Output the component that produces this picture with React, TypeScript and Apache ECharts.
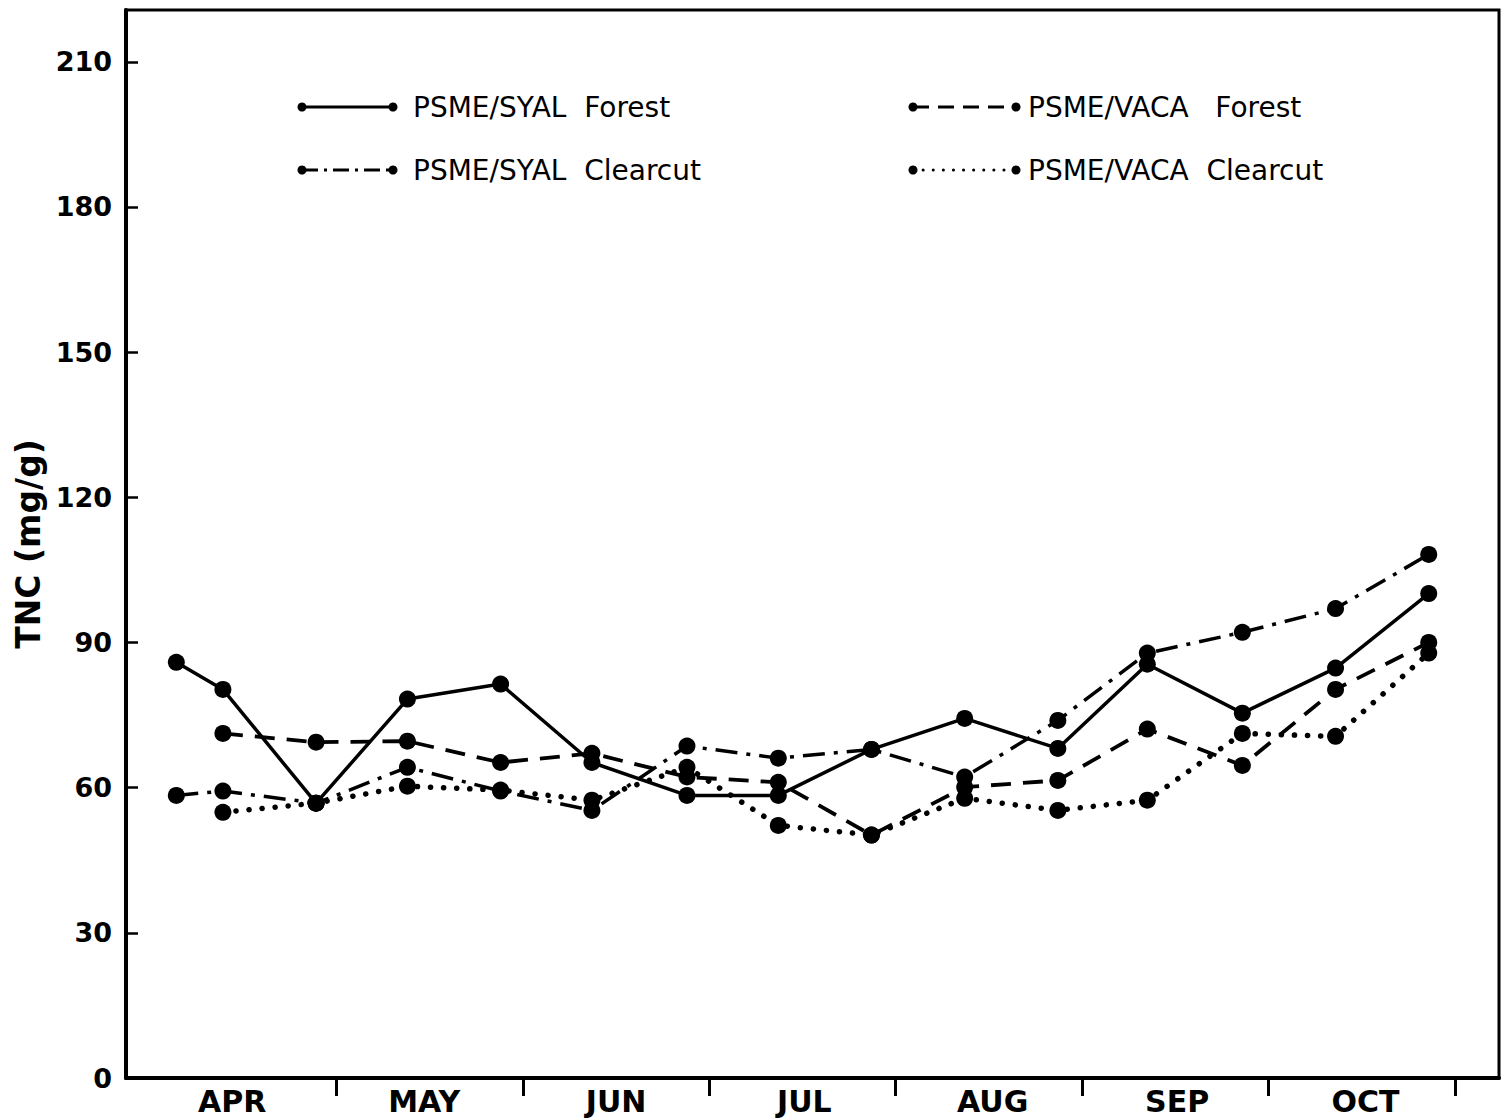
import React, { useEffect, useRef } from "react";
import * as echarts from "echarts";

// Month labels along the x axis (x unit = months since 1 April)
const months = ["APR", "MAY", "JUN", "JUL", "AUG", "SEP", "OCT"];
const monthLabelPos = [0.44, 1.47, 2.5, 3.51, 4.52, 5.51, 6.52];
const monthBoundaries = [1, 2, 3, 4, 5, 6, 7];
const yTicks = [0, 30, 60, 90, 120, 150, 180, 210];

// Sampling times (months since 1 April)
const sampleMonths = [0.14, 0.39, 0.89, 1.38, 1.88, 2.37, 2.88, 3.37, 3.87, 4.37, 4.87, 5.35, 5.86, 6.36, 6.86];

// TNC (mg/g)
const syalForest = [85.9, 80.3, 56.8, 78.3, 81.4, 65.2, 58.4, 58.4, 67.9, 74.3, 68.1, 85.5, 75.4, 84.7, 100.1];
const syalClearcut = [58.4, 59.3, 56.8, 64.2, 59.3, 55.3, 68.6, 66.1, 67.9, 62.2, 73.9, 87.8, 92.1, 97.0, 108.2];
const vacaForest = [null, 71.2, 69.4, 69.6, 65.2, 67.1, 62.2, 61.1, 50.2, 60.1, 61.5, 72.1, 64.6, 80.3, 90.0];
const vacaClearcut = [null, 54.9, 56.8, 60.3, 59.5, 57.4, 64.2, 52.2, 50.2, 57.8, 55.3, 57.4, 71.2, 70.6, 87.8];

const seriesNames = [
  "PSME/SYAL  Forest",
  "PSME/SYAL  Clearcut",
  "PSME/VACA   Forest",
  "PSME/VACA  Clearcut",
];

const FONT = "'DejaVu Sans', sans-serif";

function pairs(vals: (number | null)[]) {
  const out: number[][] = [];
  vals.forEach((v, i) => {
    if (v !== null) out.push([sampleMonths[i], v]);
  });
  return out;
}

function legendItem(x1: number, x2: number, y: number, dash: any, label: string, cap: string, gap: number) {
  return {
    type: "group",
    children: [
      {
        type: "line",
        shape: { x1, y1: y, x2, y2: y },
        style: { stroke: "#000", lineWidth: 3, lineDash: dash, lineCap: cap },
      },
      { type: "circle", shape: { cx: x1, cy: y, r: 4.5 }, style: { fill: "#000" } },
      { type: "circle", shape: { cx: x2, cy: y, r: 4.5 }, style: { fill: "#000" } },
      {
        type: "text",
        x: x2 + gap,
        y,
        style: {
          text: label,
          fontSize: 28,
          fontFamily: FONT,
          fill: "#000",
          verticalAlign: "middle",
          align: "left",
        },
      },
    ],
  };
}

export default function App() {
  const ref = useRef<HTMLDivElement>(null);
  useEffect(() => {
    if (!ref.current) return;
    const chart = echarts.init(ref.current, undefined, { renderer: "svg" });
    const lineCommon = {
      type: "line",
      symbol: "circle",
      symbolSize: 17,
      itemStyle: { color: "#000" },
      silent: true,
    };
    chart.setOption({
      animation: false,
      backgroundColor: "#fff",
      grid: {
        left: 126,
        right: 3,
        top: 10,
        bottom: 40,
        show: true,
        borderColor: "#000",
        borderWidth: 3,
      },
      xAxis: {
        type: "value",
        min: -0.13,
        max: 7.237,
        splitLine: { show: false },
        axisLine: { show: true, onZero: false, lineStyle: { color: "#000", width: 4 } },
        axisTick: {
          show: true,
          inside: false,
          length: 18,
          lineStyle: { color: "#000", width: 3 },
          customValues: monthBoundaries,
        },
        axisLabel: {
          customValues: monthLabelPos,
          formatter: (v: number) => months[Math.floor(v)] ?? "",
          color: "#000",
          fontSize: 30,
          fontWeight: "bold",
          fontFamily: FONT,
          margin: 8,
        },
      },
      yAxis: {
        type: "value",
        min: 0,
        max: 220.7,
        name: "TNC (mg/g)",
        nameLocation: "middle",
        nameGap: 78,
        nameTextStyle: { color: "#000", fontSize: 33, fontWeight: "bold", fontFamily: FONT },
        splitLine: { show: false },
        axisLine: { show: true, onZero: false, lineStyle: { color: "#000", width: 4 } },
        axisTick: {
          show: true,
          inside: true,
          length: 12,
          lineStyle: { color: "#000", width: 2.5 },
          customValues: yTicks,
        },
        axisLabel: {
          customValues: yTicks,
          color: "#000",
          fontSize: 27,
          fontWeight: "bold",
          fontFamily: FONT,
          margin: 14,
        },
      },
      series: [
        {
          ...lineCommon,
          name: seriesNames[0],
          data: pairs(syalForest),
          lineStyle: { color: "#000", width: 3.5, type: "solid" },
          z: 4,
        },
        {
          ...lineCommon,
          name: seriesNames[1],
          data: pairs(syalClearcut),
          lineStyle: { color: "#000", width: 3.5, type: [22, 9, 4, 9] },
          z: 3,
        },
        {
          ...lineCommon,
          name: seriesNames[2],
          data: pairs(vacaForest),
          lineStyle: { color: "#000", width: 3.8, type: [20, 12] },
          z: 2,
        },
        {
          ...lineCommon,
          name: seriesNames[3],
          data: pairs(vacaClearcut),
          lineStyle: { color: "#000", width: 5.5, type: [0.1, 13], cap: "round" },
          z: 1,
        },
      ],
      graphic: [
        legendItem(302, 393, 107, null, seriesNames[0], "butt", 20),
        legendItem(302, 393, 170, [16, 6, 3, 6], seriesNames[1], "butt", 20),
        legendItem(913, 1016, 107, [16, 9], seriesNames[2], "butt", 12),
        legendItem(913, 1016, 170, [0.1, 10], seriesNames[3], "round", 12),
      ],
    });
    return () => chart.dispose();
  }, []);
  return (
    <div
      ref={ref}
      style={{ position: "absolute", left: 0, top: 0, width: 1502, height: 1118 }}
    />
  );
}
